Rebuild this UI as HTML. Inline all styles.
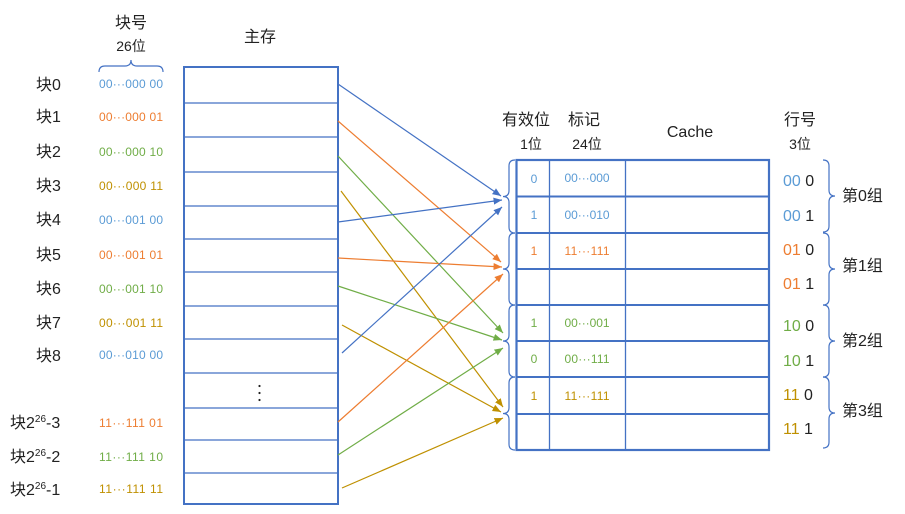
<!DOCTYPE html>
<html><head><meta charset="utf-8"><style>
html,body{margin:0;padding:0;background:#fff;}
svg{display:block;}
text{font-family:"Liberation Sans","Noto Sans CJK SC",sans-serif;}
</style></head><body>
<svg width="905" height="514" viewBox="0 0 905 514" xmlns="http://www.w3.org/2000/svg">
<defs>
<marker id="mb" markerUnits="userSpaceOnUse" markerWidth="9" markerHeight="8" refX="8.5" refY="3.5" orient="auto"><path d="M0,0 L8.5,3.5 L0,7 z" fill="#4472C4"/></marker>
<marker id="mo" markerUnits="userSpaceOnUse" markerWidth="9" markerHeight="8" refX="8.5" refY="3.5" orient="auto"><path d="M0,0 L8.5,3.5 L0,7 z" fill="#ED7D31"/></marker>
<marker id="mg" markerUnits="userSpaceOnUse" markerWidth="9" markerHeight="8" refX="8.5" refY="3.5" orient="auto"><path d="M0,0 L8.5,3.5 L0,7 z" fill="#70AD47"/></marker>
<marker id="my" markerUnits="userSpaceOnUse" markerWidth="9" markerHeight="8" refX="8.5" refY="3.5" orient="auto"><path d="M0,0 L8.5,3.5 L0,7 z" fill="#BF9000"/></marker>
</defs>

<!-- headers left -->
<text x="131" y="28" font-size="16" text-anchor="middle" fill="#222">块号</text>
<text x="131" y="51" font-size="14" text-anchor="middle" fill="#222">26位</text>
<path d="M99,72 Q99,66 105,66 L125,66 Q131,66 131,60 Q131,66 137,66 L157,66 Q163,66 163,72" fill="none" stroke="#4472C4" stroke-width="1.2"/>
<text x="260" y="42" font-size="16" text-anchor="middle" fill="#222">主存</text>

<!-- block labels -->
<g font-size="16" fill="#222">
<text x="36" y="90">块0</text>
<text x="36" y="122">块1</text>
<text x="36" y="157">块2</text>
<text x="36" y="191">块3</text>
<text x="36" y="225">块4</text>
<text x="36" y="260">块5</text>
<text x="36" y="294">块6</text>
<text x="36" y="328">块7</text>
<text x="36" y="361">块8</text>
<text x="10" y="428">块2<tspan font-size="10" dy="-6">26</tspan><tspan dy="6">-3</tspan></text>
<text x="10" y="462">块2<tspan font-size="10" dy="-6">26</tspan><tspan dy="6">-2</tspan></text>
<text x="10" y="495">块2<tspan font-size="10" dy="-6">26</tspan><tspan dy="6">-1</tspan></text>
</g>

<!-- binary labels -->
<g font-size="12">
<text x="99" y="88" textLength="64" fill="#5B9BD5">00···000 00</text>
<text x="99" y="121" textLength="64" fill="#ED7D31">00···000 01</text>
<text x="99" y="156" textLength="64" fill="#70AD47">00···000 10</text>
<text x="99" y="190" textLength="64" fill="#BF9000">00···000 11</text>
<text x="99" y="224" textLength="64" fill="#5B9BD5">00···001 00</text>
<text x="99" y="259" textLength="64" fill="#ED7D31">00···001 01</text>
<text x="99" y="293" textLength="64" fill="#70AD47">00···001 10</text>
<text x="99" y="327" textLength="64" fill="#BF9000">00···001 11</text>
<text x="99" y="359" textLength="64" fill="#5B9BD5">00···010 00</text>
<text x="99" y="427" textLength="64" fill="#ED7D31">11···111 01</text>
<text x="99" y="461" textLength="64" fill="#70AD47">11···111 10</text>
<text x="99" y="493" textLength="64" fill="#BF9000">11···111 11</text>
</g>

<!-- main memory -->
<rect x="184" y="67" width="154" height="437" fill="none" stroke="#4472C4" stroke-width="2"/>
<g stroke="#4472C4" stroke-width="1.3">
<line x1="184" y1="103" x2="338" y2="103"/>
<line x1="184" y1="137" x2="338" y2="137"/>
<line x1="184" y1="172" x2="338" y2="172"/>
<line x1="184" y1="206" x2="338" y2="206"/>
<line x1="184" y1="239" x2="338" y2="239"/>
<line x1="184" y1="272" x2="338" y2="272"/>
<line x1="184" y1="306" x2="338" y2="306"/>
<line x1="184" y1="339" x2="338" y2="339"/>
<line x1="184" y1="373" x2="338" y2="373"/>
<line x1="184" y1="408" x2="338" y2="408"/>
<line x1="184" y1="440" x2="338" y2="440"/>
<line x1="184" y1="473" x2="338" y2="473"/>
</g>
<g fill="#222"><circle cx="259.5" cy="386" r="1.1"/><circle cx="259.5" cy="393" r="1.1"/><circle cx="259.5" cy="400" r="1.1"/></g>

<!-- arrows -->
<g stroke-width="1.2" fill="none">
<line x1="338" y1="84" x2="501" y2="196" stroke="#4472C4" marker-end="url(#mb)"/>
<line x1="338" y1="121" x2="501" y2="262" stroke="#ED7D31" marker-end="url(#mo)"/>
<line x1="338" y1="156" x2="503" y2="333" stroke="#70AD47" marker-end="url(#mg)"/>
<line x1="341" y1="191" x2="503" y2="407" stroke="#BF9000" marker-end="url(#my)"/>
<line x1="338" y1="222" x2="502" y2="200" stroke="#4472C4" marker-end="url(#mb)"/>
<line x1="338" y1="258" x2="502" y2="267" stroke="#ED7D31" marker-end="url(#mo)"/>
<line x1="338" y1="286" x2="502" y2="340" stroke="#70AD47" marker-end="url(#mg)"/>
<line x1="342" y1="325" x2="501" y2="412" stroke="#BF9000" marker-end="url(#my)"/>
<line x1="342" y1="353" x2="502" y2="207" stroke="#4472C4" marker-end="url(#mb)"/>
<line x1="338" y1="422" x2="503" y2="274" stroke="#ED7D31" marker-end="url(#mo)"/>
<line x1="338" y1="455" x2="503" y2="348" stroke="#70AD47" marker-end="url(#mg)"/>
<line x1="342" y1="488" x2="503" y2="418" stroke="#BF9000" marker-end="url(#my)"/>
</g>

<!-- cache headers -->
<g font-size="16" fill="#222" text-anchor="middle">
<text x="526" y="125">有效位</text>
<text x="584" y="125">标记</text>
<text x="690" y="137">Cache</text>
<text x="800" y="125">行号</text>
</g>
<g font-size="14" fill="#222" text-anchor="middle">
<text x="531" y="149">1位</text>
<text x="587" y="149">24位</text>
<text x="800" y="149">3位</text>
</g>

<!-- cache table -->
<rect x="516.5" y="160" width="252.5" height="290" fill="none" stroke="#4472C4" stroke-width="2.2"/>
<g stroke="#4472C4" stroke-width="2">
<line x1="516" y1="196.5" x2="769" y2="196.5"/>
<line x1="516" y1="233" x2="769" y2="233"/>
<line x1="516" y1="269" x2="769" y2="269"/>
<line x1="516" y1="305" x2="769" y2="305"/>
<line x1="516" y1="341" x2="769" y2="341"/>
<line x1="516" y1="377" x2="769" y2="377"/>
<line x1="516" y1="414" x2="769" y2="414"/>
</g>
<g stroke="#4472C4" stroke-width="1.3">
<line x1="549.5" y1="160" x2="549.5" y2="450"/>
<line x1="625.5" y1="160" x2="625.5" y2="450"/>
</g>

<!-- cache contents -->
<g font-size="12" text-anchor="middle">
<text x="534" y="183" fill="#5B9BD5">0</text>
<text x="587" y="182" textLength="45" fill="#5B9BD5">00···000</text>
<text x="534" y="219" fill="#5B9BD5">1</text>
<text x="587" y="219" textLength="45" fill="#5B9BD5">00···010</text>
<text x="534" y="255" fill="#ED7D31">1</text>
<text x="587" y="255" textLength="45" fill="#ED7D31">11···111</text>
<text x="534" y="327" fill="#70AD47">1</text>
<text x="587" y="327" textLength="45" fill="#70AD47">00···001</text>
<text x="534" y="363" fill="#70AD47">0</text>
<text x="587" y="363" textLength="45" fill="#70AD47">00···111</text>
<text x="534" y="400" fill="#BF9000">1</text>
<text x="587" y="400" textLength="45" fill="#BF9000">11···111</text>
</g>

<!-- left braces on cache -->
<g fill="none" stroke="#4472C4" stroke-width="1.2">
<path d="M515,160 Q509,160 509,166 L509,190.5 Q509,196.5 503,196.5 Q509,196.5 509,202.5 L509,227 Q509,233 515,233"/>
<path d="M515,233 Q509,233 509,239 L509,263 Q509,269 503,269 Q509,269 509,275 L509,299 Q509,305 515,305"/>
<path d="M515,305 Q509,305 509,311 L509,335 Q509,341 503,341 Q509,341 509,347 L509,371 Q509,377 515,377"/>
<path d="M515,377 Q509,377 509,383 L509,407.5 Q509,413.5 503,413.5 Q509,413.5 509,419.5 L509,444 Q509,450 515,450"/>
</g>

<!-- right row labels -->
<g font-size="16">
<text x="783" y="186"><tspan fill="#5B9BD5">00</tspan><tspan fill="#222"> 0</tspan></text>
<text x="783" y="221"><tspan fill="#5B9BD5">00</tspan><tspan fill="#222"> 1</tspan></text>
<text x="783" y="255"><tspan fill="#ED7D31">01</tspan><tspan fill="#222"> 0</tspan></text>
<text x="783" y="289"><tspan fill="#ED7D31">01</tspan><tspan fill="#222"> 1</tspan></text>
<text x="783" y="331"><tspan fill="#70AD47">10</tspan><tspan fill="#222"> 0</tspan></text>
<text x="783" y="366"><tspan fill="#70AD47">10</tspan><tspan fill="#222"> 1</tspan></text>
<text x="783" y="400"><tspan fill="#BF9000">11</tspan><tspan fill="#222"> 0</tspan></text>
<text x="783" y="434"><tspan fill="#BF9000">11</tspan><tspan fill="#222"> 1</tspan></text>
</g>

<!-- right braces -->
<g fill="none" stroke="#4472C4" stroke-width="1.2">
<path d="M823,160 Q829,160 829,166 L829,190 Q829,196 835,196 Q829,196 829,202 L829,226 Q829,232 823,232"/>
<path d="M823,233 Q829,233 829,239 L829,263 Q829,269 835,269 Q829,269 829,275 L829,299 Q829,305 823,305"/>
<path d="M823,305 Q829,305 829,311 L829,335 Q829,341 835,341 Q829,341 829,347 L829,371 Q829,377 823,377"/>
<path d="M823,377 Q829,377 829,383 L829,407 Q829,413 835,413 Q829,413 829,419 L829,442 Q829,448 823,448"/>
</g>
<g font-size="16" fill="#222">
<text x="842" y="201">第0组</text>
<text x="842" y="271">第1组</text>
<text x="842" y="346">第2组</text>
<text x="842" y="416">第3组</text>
</g>
</svg>
</body></html>
